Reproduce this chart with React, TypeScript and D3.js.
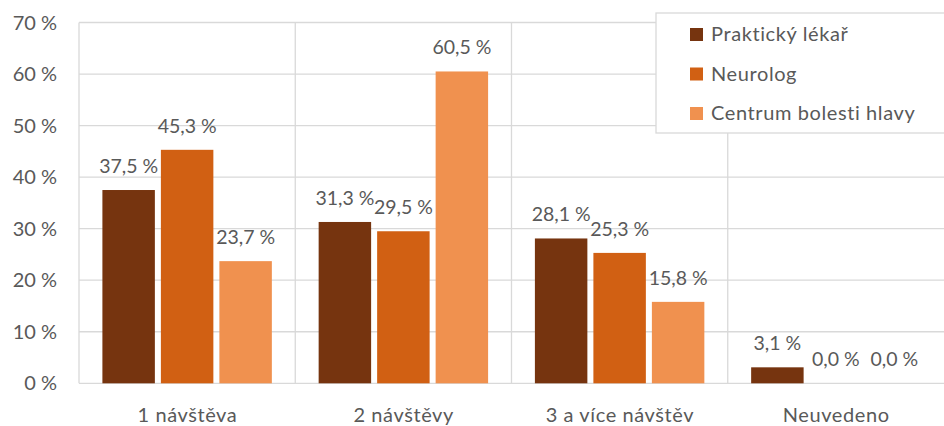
import React from "react";
import * as d3 from "d3";

// Chart data
const categories = ["1 návštěva", "2 návštěvy", "3 a více návštěv", "Neuvedeno"];
const seriesNames = ["Praktický lékař", "Neurolog", "Centrum bolesti hlavy"];
const praktickyLekar = [37.5, 31.3, 28.1, 3.1];
const neurolog = [45.3, 29.5, 25.3, 0.0];
const centrumBolesti = [23.7, 60.5, 15.8, 0.0];
const yTicks = [0, 10, 20, 30, 40, 50, 60, 70];

const seriesValues = [praktickyLekar, neurolog, centrumBolesti];
const colors = ["#76340F", "#D16013", "#F0914F"];

const W = 944;
const H = 426;
const margin = { left: 79, right: 0, top: 22.5, bottom: 42.7 };
const FONT = "Lato, 'Open Sans', sans-serif";
const FS = 20;
const LS = 0.6;
const TEXT = "#595959";
const GRID = "#D9D9D9";

const fmt = (v: number) => v.toFixed(1).replace(".", ",") + " %";

export default function App() {
  const x0 = d3
    .scaleBand<string>()
    .domain(categories)
    .range([margin.left, W - margin.right])
    .paddingInner(0)
    .paddingOuter(0);

  const x1 = d3
    .scaleBand<string>()
    .domain(seriesNames)
    .range([0, x0.bandwidth()])
    .paddingInner(0.103)
    .paddingOuter(0.4);

  const y = d3
    .scaleLinear()
    .domain([0, 70])
    .range([H - margin.bottom, margin.top]);

  const legendX = 656;
  const legendY = 13;

  return (
    <svg
      width={W}
      height={H}
      style={{ position: "absolute", left: 0, top: 0, display: "block" }}
      fontFamily={FONT}
    >
      <rect width={W} height={H} fill="#fff" />

      {/* horizontal gridlines */}
      {yTicks.map((t) => (
        <line
          key={"g" + t}
          x1={margin.left}
          x2={W - margin.right}
          y1={y(t)}
          y2={y(t)}
          stroke={GRID}
          strokeWidth={1.3}
        />
      ))}

      {/* vertical category separators */}
      {categories.map((c) => (
        <line
          key={"v" + c}
          x1={x0(c)!}
          x2={x0(c)!}
          y1={y(70)}
          y2={y(0)}
          stroke={GRID}
          strokeWidth={1.3}
        />
      ))}

      {/* y tick labels */}
      {yTicks.map((t) => (
        <text
          key={"t" + t}
          x={57}
          y={y(t) + 7}
          textAnchor="end"
          fontSize={FS}
          fill={TEXT}
        >
          {t} %
        </text>
      ))}

      {/* bars and value labels */}
      {categories.map((c, ci) =>
        seriesNames.map((s, si) => {
          const v = seriesValues[si][ci];
          const bx = x0(c)! + x1(s)!;
          const bw = x1.bandwidth();
          return (
            <g key={c + s}>
              <rect
                x={bx}
                y={y(v)}
                width={bw}
                height={y(0) - y(v)}
                fill={colors[si]}
              />
              <text
                x={bx + bw / 2}
                y={y(v) - 17}
                textAnchor="middle"
                fontSize={19.5}
                fill={TEXT}
              >
                {fmt(v)}
              </text>
            </g>
          );
        })
      )}

      {/* category labels */}
      {categories.map((c) => (
        <text
          key={"c" + c}
          x={x0(c)! + x0.bandwidth() / 2 + LS / 2}
          y={422}
          textAnchor="middle"
          fontSize={FS}
          letterSpacing={LS}
          fill={TEXT}
        >
          {c}
        </text>
      ))}

      {/* legend */}
      <rect
        x={legendX}
        y={legendY}
        width={W - legendX + 2}
        height={120}
        fill="#fff"
        stroke={GRID}
        strokeWidth={1.3}
      />
      {seriesNames.map((s, i) => {
        const base = 41 + i * 39.5;
        return (
          <g key={"l" + s}>
            <rect x={690} y={base - 13} width={13} height={13} fill={colors[i]} />
            <text x={711} y={base} fontSize={FS} letterSpacing={LS} fill={TEXT}>
              {s}
            </text>
          </g>
        );
      })}
    </svg>
  );
}
